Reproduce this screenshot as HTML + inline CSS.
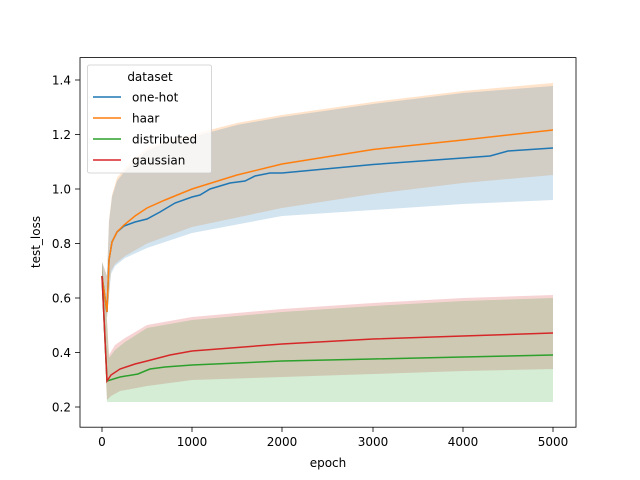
<!DOCTYPE html><html><head><style>body{margin:0;background:#fff}svg{display:block;font-family:"DejaVu Sans","Liberation Sans",sans-serif}</style></head><body>
<svg width="640" height="480" viewBox="0 0 640 480">
<rect width="640" height="480" fill="#fff"/>
<g stroke="none">
<path d="M102,262 L107,276 L109,220 L112,195 L117,178 L125,168 L135,158 L147,148 L165,141 L192,134.5 L237,123 L282,115 L373,102 L463,91 L553,83 L553,175 L463,183 L373,194 L282,208 L192,227 L147,243.5 L125,256 L115,264 L111,271 L107,318 L102,290Z" fill="#ff7f0e" fill-opacity="0.22"/>
<path d="M102,262 L107,276 L109,222 L112,197 L117,181 L125,171 L135,161 L147,151 L165,143 L192,137 L237,125 L282,117 L373,104 L463,93 L553,86 L553,200 L463,204 L373,210 L282,216 L192,233 L147,248 L125,258 L115,266 L111,274 L107,318 L102,290Z" fill="#1f77b4" fill-opacity="0.2"/>
<path d="M102,262 L107,320 L109,355 L115,345 L125,338 L147,325 L192,317 L282,309 L373,303 L463,298 L553,295 L553,369 L463,371 L373,374 L282,377 L192,380 L147,386 L120,391 L111,396 L107,400 L102,290Z" fill="#d62728" fill-opacity="0.2"/>
<path d="M102,262 L107,320 L109,358 L115,350 L125,342 L147,328 L192,320 L282,312 L373,306 L463,301 L553,298 L553,402 L463,402 L373,402 L282,402 L192,402 L147,402 L111,402 L107,402 L102,290Z" fill="#2ca02c" fill-opacity="0.2"/>
</g>
<g fill="none" stroke-width="1.5">
<path d="M102,276 L107,312 L109,260 L112,242 L117,232 L124,226 L135,222 L147,219 L160,212 L175,203 L192,197 L200,195 L210,189 L230,183 L245,181 L255,176 L270,173 L282,173 L373,164.5 L463,158 L490,156 L508,151 L553,148" stroke="#1f77b4"/>
<path d="M102,276 L107,312 L109,260 L112,242 L117,232 L124,225 L135,216 L147,208 L165,200 L192,189 L237,175 L282,164 L373,149.5 L463,140 L553,130" stroke="#ff7f0e"/>
<path d="M102,276 L107,381 L120,377 L138,374 L145,371 L150,369 L165,367 L192,365 L282,361 L373,359 L463,357 L553,355" stroke="#2ca02c"/>
<path d="M102,276 L107,381 L111,375 L120,369 L135,364 L147,361 L170,355 L192,351 L282,344 L373,339 L463,336 L553,333" stroke="#d62728"/>
</g>
<rect x="80" y="57.6" width="496" height="369.6" fill="none" stroke="#000" stroke-width="0.8"/>
<g stroke="#000" stroke-width="0.8">
<line x1="102" y1="427" x2="102" y2="432"/><line x1="192" y1="427" x2="192" y2="432"/><line x1="282" y1="427" x2="282" y2="432"/><line x1="373" y1="427" x2="373" y2="432"/><line x1="463" y1="427" x2="463" y2="432"/><line x1="553" y1="427" x2="553" y2="432"/>
<line x1="75" y1="407" x2="80" y2="407"/><line x1="75" y1="352.5" x2="80" y2="352.5"/><line x1="75" y1="298" x2="80" y2="298"/><line x1="75" y1="243.5" x2="80" y2="243.5"/><line x1="75" y1="189" x2="80" y2="189"/><line x1="75" y1="134.5" x2="80" y2="134.5"/><line x1="75" y1="80" x2="80" y2="80"/>
</g>
<g font-size="12" fill="#000" text-anchor="middle">
<text x="102" y="446">0</text><text x="192" y="446">1000</text><text x="282" y="446">2000</text><text x="373" y="446">3000</text><text x="463" y="446">4000</text><text x="553" y="446">5000</text>
<text x="328" y="467">epoch</text>
</g>
<g font-size="12" fill="#000" text-anchor="end">
<text x="71" y="411.5">0.2</text><text x="71" y="357">0.4</text><text x="71" y="302.5">0.6</text><text x="71" y="248">0.8</text><text x="71" y="193.5">1.0</text><text x="71" y="139">1.2</text><text x="71" y="84.5">1.4</text>
</g>
<text transform="translate(40,242) rotate(-90)" font-size="12" text-anchor="middle">test_loss</text>
<rect x="87.5" y="65" width="124" height="108" rx="2" fill="#fff" fill-opacity="0.8" stroke="#ccc" stroke-width="0.8"/>
<text x="150" y="81" font-size="12" text-anchor="middle">dataset</text>
<g stroke-width="1.5"><line x1="93" y1="97" x2="121" y2="97" stroke="#1f77b4"/><line x1="93" y1="118" x2="121" y2="118" stroke="#ff7f0e"/><line x1="93" y1="139" x2="121" y2="139" stroke="#2ca02c"/><line x1="93" y1="160" x2="121" y2="160" stroke="#d62728"/></g>
<g font-size="12"><text x="132" y="101.5">one-hot</text><text x="132" y="122.5">haar</text><text x="132" y="143.5">distributed</text><text x="132" y="164.5">gaussian</text></g>
</svg></body></html>
